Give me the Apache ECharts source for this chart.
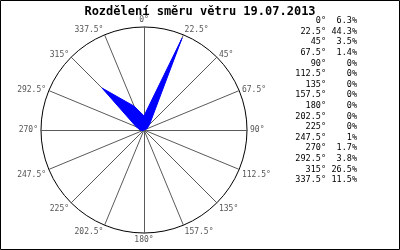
<!DOCTYPE html>
<html>
<head>
<meta charset="utf-8">
<script src="https://cdn.jsdelivr.net/npm/echarts@6/dist/echarts.min.js"></script>
<style>html,body{margin:0;padding:0;background:#fff}#c{width:400px;height:250px}</style>
</head>
<body>
<div id="c"></div>
<script>
var title = 'Rozdělení směru větru 19.07.2013';
var directions = ['0°','22.5°','45°','67.5°','90°','112.5°','135°','157.5°','180°','202.5°','225°','247.5°','270°','292.5°','315°','337.5°'];
var values = [6.3, 44.3, 3.5, 1.4, 0, 0, 0, 0, 0, 0, 0, 1, 1.7, 3.8, 26.5, 11.5];
var valueLabels = ['6.3%','44.3%','3.5%','1.4%','0%','0%','0%','0%','0%','0%','0%','1%','1.7%','3.8%','26.5%','11.5%'];
var radarMax = 46;

var font = '"DejaVu Sans Mono", monospace';
// ECharts radar runs counter-clockwise; reorder so compass runs clockwise
var order = [0];
for (var i = directions.length - 1; i > 0; i--) order.push(i);
var indicator = order.map(function (i) { return { name: directions[i], max: radarMax }; });
var data = order.map(function (i) { return values[i]; });

// label nudges (JpGraph-like corner anchoring)
var lowerNames = ['112.5°','135°','157.5°','202.5°','225°','247.5°'];
var upperNames = ['22.5°','337.5°'];

var graphics = [{
  type: 'rect', shape: { x: 0.5, y: 0.5, width: 399, height: 249 },
  style: { fill: 'none', stroke: '#000', lineWidth: 1 }, silent: true
}];
directions.forEach(function (d, i) {
  var y = 21.5 + i * 10.6;
  graphics.push({ type: 'text', right: 400 - 326, top: y - 5,
    style: { text: d, font: '8.5px ' + font, fill: '#000', textAlign: 'right' } });
  graphics.push({ type: 'text', right: 400 - 357, top: y - 5,
    style: { text: valueLabels[i], font: '8.5px ' + font, fill: '#000', textAlign: 'right' } });
});

var nameStyle = { color: '#555', fontFamily: font, fontSize: 8 };
var chart = echarts.init(document.getElementById('c'), null, { renderer: 'canvas' });
chart.setOption({
  animation: false,
  backgroundColor: '#fff',
  title: { text: title, left: 'center', top: 1,
    textStyle: { fontFamily: font, fontSize: 12, fontWeight: 'bold', color: '#000' } },
  radar: {
    center: [144, 130], radius: 103, startAngle: 90, shape: 'circle', splitNumber: 1,
    indicator: indicator,
    axisName: {
      color: '#555', fontFamily: font, fontSize: 8,
      formatter: function (name) {
        if (lowerNames.indexOf(name) >= 0) return '{dn|' + name + '}';
        if (upperNames.indexOf(name) >= 0) return '{up|' + name + '}';
        return '{n|' + name + '}';
      },
      rich: {
        n: nameStyle,
        dn: Object.assign({ padding: [8, 0, 0, 0] }, nameStyle),
        up: Object.assign({ padding: [0, 0, 4, 0] }, nameStyle)
      }
    },
    nameGap: 3,
    axisLine: { lineStyle: { color: '#5a5a5a', width: 1 } },
    splitLine: { lineStyle: { color: '#000', width: 1 } },
    splitArea: { show: false }
  },
  series: [{
    type: 'radar', symbol: 'none',
    lineStyle: { color: '#0000ff', width: 1 },
    areaStyle: { color: '#0000ff', opacity: 1 },
    data: [{ value: data }]
  }],
  graphic: graphics
});
</script>
</body>
</html>
